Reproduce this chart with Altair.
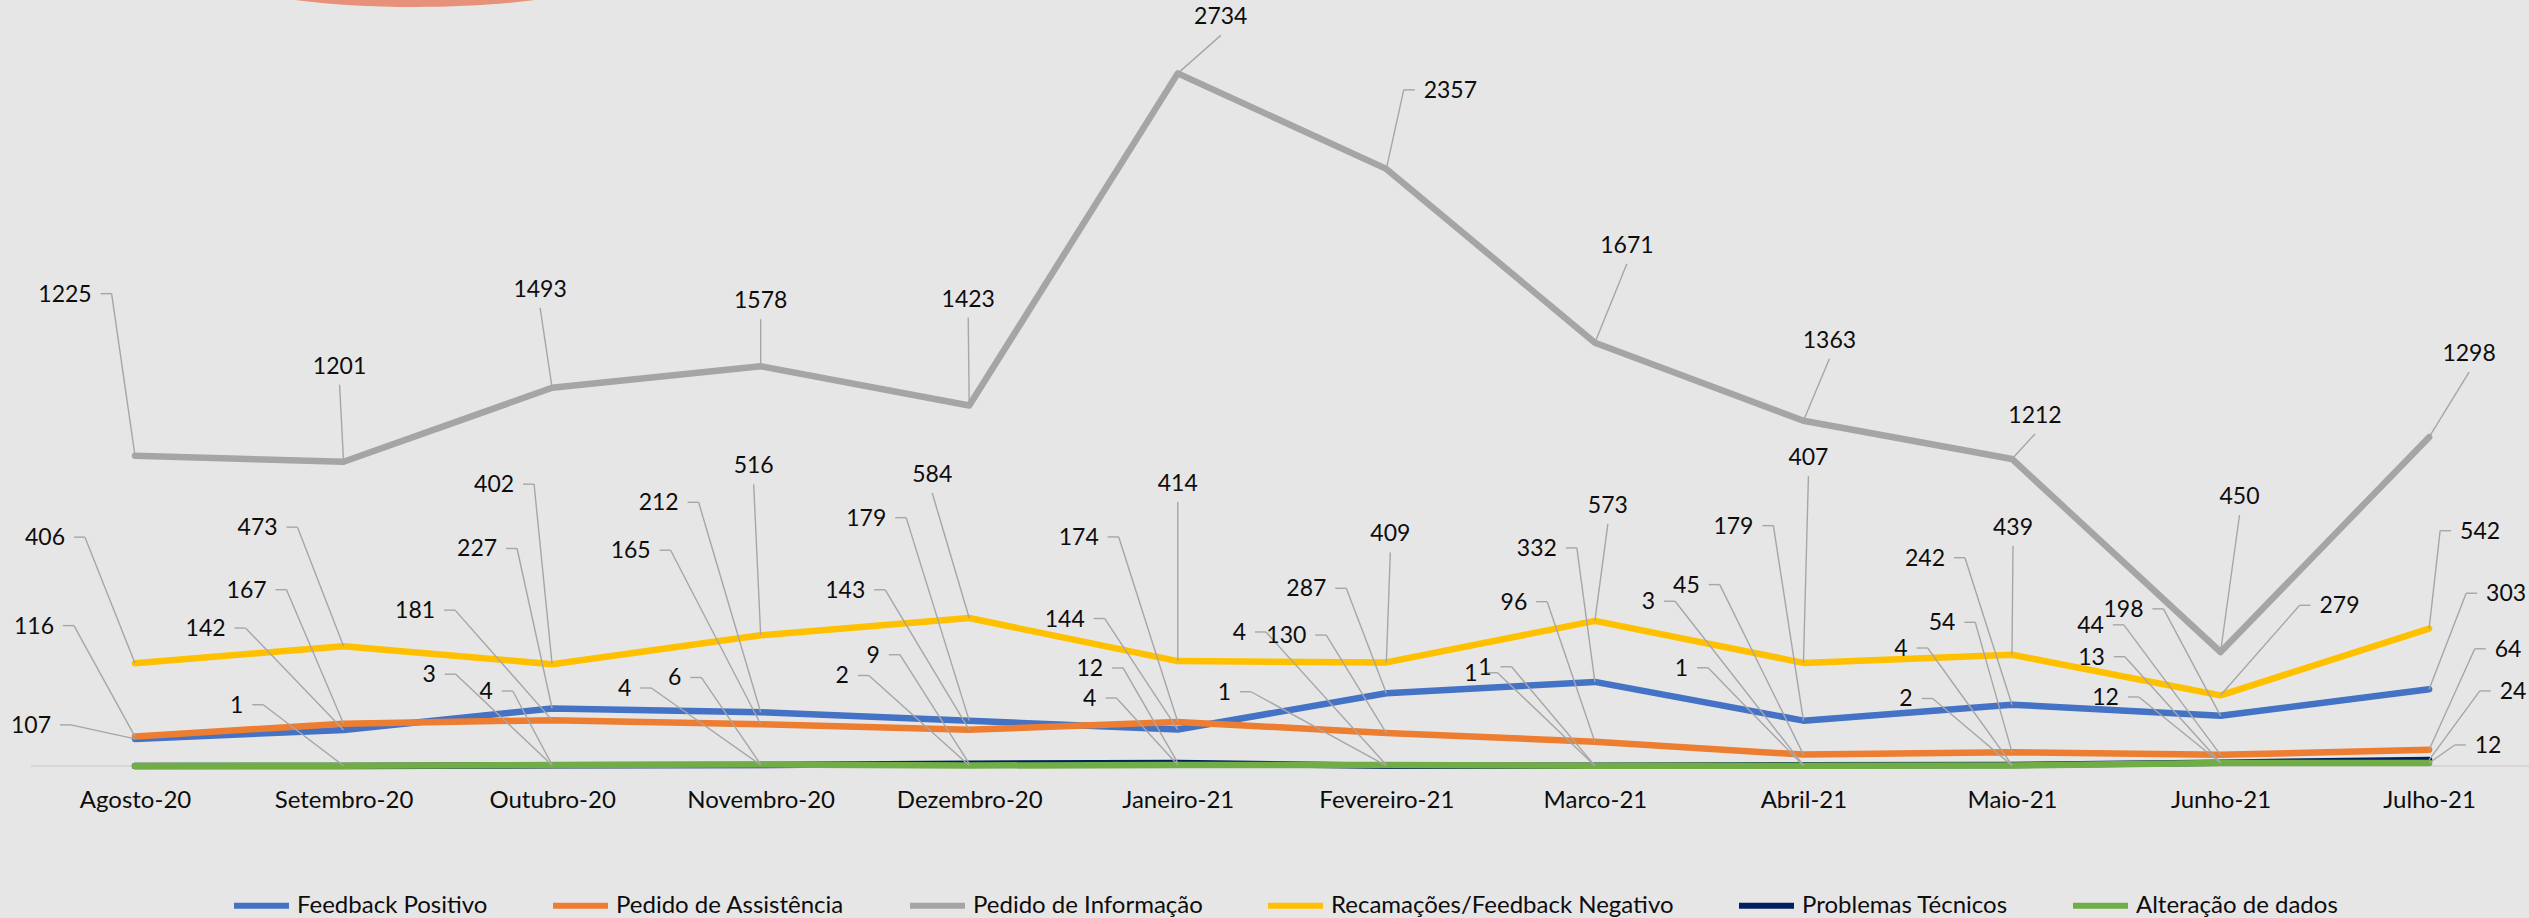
import json
import altair as alt
import pandas as pd

# ---- data -----------------------------------------------------------------
months = ["Agosto-20", "Setembro-20", "Outubro-20", "Novembro-20", "Dezembro-20",
          "Janeiro-21", "Fevereiro-21", "Marco-21", "Abril-21", "Maio-21",
          "Junho-21", "Julho-21"]

series_names = ["Feedback Positivo", "Pedido de Assistência", "Pedido de Informação",
                "Recamações/Feedback Negativo", "Problemas Técnicos", "Alteração de dados"]
series_colors = ["#4472C4", "#ED7D31", "#A5A5A5", "#FFC000", "#002060", "#70AD47"]

feedback_positivo = [107, 142, 227, 212, 179, 144, 287, 332, 179, 242, 198, 303]
pedido_assistencia = [116, 167, 181, 165, 143, 174, 130, 96, 45, 54, 44, 64]
pedido_informacao = [1225, 1201, 1493, 1578, 1423, 2734, 2357, 1671, 1363, 1212, 450, 1298]
reclamacoes = [406, 473, 402, 516, 584, 414, 409, 573, 407, 439, 279, 542]
problemas_tecnicos = [0, 0, 3, 4, 9, 12, 1, 1, 3, 4, 13, 24]
alteracao_dados = [0, 1, 4, 6, 2, 4, 4, 1, 1, 2, 12, 12]

# data-label placement: offset of each label from its point, in pixels (dx, dy)
lbl_feedback_positivo = [(-104, -14), (-138, -102), (-75, -160), (-102, -210), (-103, -203), (-113, -111),
                         (-80, -105), (-58, -134), (-70, -195), (-87, -147), (-97, -107), (77, -96)]
lbl_pedido_assistencia = [(-101, -111), (-97, -134), (-137, -110), (-130, -174), (-124, -140), (-99, -185),
                          (-100, -98), (-81, -140), (-117, -170), (-70, -130), (-130, -130), (79, -101)]
lbl_pedido_informacao = [(-70, -162), (-4, -96), (-12, -99), (0, -66), (-1, -107), (43, -57),
                         (64, -79), (32, -98), (26, -81), (23, -44), (19, -156), (40, -84)]
lbl_reclamacoes = [(-90, -126), (-86, -119), (-58, -180), (-7, -170), (-37, -144), (0, -178),
                   (4, -129), (13, -116), (5, -206), (1, -128), (119, -90), (51, -98)]
lbl_problemas_tecnicos = [(0, 0), (0, 0), (-123, -91), (-136, -77), (-96, -109), (-88, -95),
                          (-162, -74), (-124, -93), (-155, -164), (-111, -117), (-129, -106), (84, -69)]
lbl_alteracao_dados = [(0, 0), (-107, -61), (-66, -74), (-86, -87), (-127, -90), (-88, -67),
                       (-147, -133), (-110, -99), (-122, -98), (-106, -67), (-115, -66), (59, -18)]

values = [feedback_positivo, pedido_assistencia, pedido_informacao,
          reclamacoes, problemas_tecnicos, alteracao_dados]
offsets = [lbl_feedback_positivo, lbl_pedido_assistencia, lbl_pedido_informacao,
           lbl_reclamacoes, lbl_problemas_tecnicos, lbl_alteracao_dados]

# ---- geometry of the plot area ----------------------------------------------
W, H = 2498, 760
X_MIN, X_MAX = -0.4987, 11.479
Y_MAX = 3000
PX_X = W / (X_MAX - X_MIN)      # pixels per month
PX_Y = H / Y_MAX                # pixels per unit
FONT = "Lato"
FS = 23
FS_AXIS = 24
TXT = "#0d0d0d"

rows = []
for name, vals, offs in zip(series_names, values, offsets):
    for i, (v, (dx, dy)) in enumerate(zip(vals, offs)):
        rows.append({"idx": i, "serie": name, "valor": v, "dx": dx, "dy": dy,
                     "lab": str(v) if v > 0 else ""})
df = pd.DataFrame(rows)

# leader lines: side-attached stub when the point is clear of the label, else from its bottom
lab = df[df["lab"] != ""].copy()
hw = lab["lab"].str.len() * 6.65
right_edge = lab["dx"] + hw
left_edge = lab["dx"] - hw
side = ["l" if r < -25 else ("r" if l > 25 else "b") for r, l in zip(right_edge, left_edge)]
lab["side"] = side
ex, ey, sx = [], [], []
for s, r, l, dx, dy in zip(side, right_edge, left_edge, lab["dx"], lab["dy"]):
    if s == "l":
        ex.append(r + 20); sx.append(r + 9); ey.append(dy)
    elif s == "r":
        ex.append(l - 20); sx.append(l - 9); ey.append(dy)
    else:
        ex.append(dx); sx.append(dx); ey.append(dy + 19)
lab["lx"] = lab["idx"] + lab["dx"] / PX_X
lab["ly"] = lab["valor"] - (lab["dy"] + 1) / PX_Y
lab["ex"] = lab["idx"] + pd.Series(ex, index=lab.index) / PX_X
lab["sx"] = lab["idx"] + pd.Series(sx, index=lab.index) / PX_X
lab["ey"] = lab["valor"] - pd.Series(ey, index=lab.index) / PX_Y

xscale = alt.Scale(domain=[X_MIN, X_MAX], nice=False, zero=False)
yscale = alt.Scale(domain=[0, Y_MAX], nice=False)
label_expr = json.dumps(months) + "[datum.value]"

x_axis = alt.Axis(values=list(range(12)), labelExpr=label_expr, title=None, grid=False,
                  ticks=False, domain=False, labelFont=FONT, labelFontSize=FS_AXIS,
                  labelColor=TXT, labelPadding=22, labelOverlap=False, labelFlush=False)

legend = alt.Legend(orient="none", legendX=200, legendY=869, direction="horizontal",
                    title=None, symbolType="stroke", symbolStrokeWidth=6, symbolSize=3025,
                    labelFont=FONT, labelFontSize=FS_AXIS, labelColor=TXT, labelOffset=5,
                    labelLimit=0, columnPadding=53)
color = alt.Color("serie:N", scale=alt.Scale(domain=series_names, range=series_colors),
                  legend=legend)

# decorative ellipse peeking in at the top edge
ellipse_path = "M -1 0 A 1 0.175 0 1 0 1 0 A 1 0.175 0 1 0 -1 0 Z"
ellipse = alt.Chart(pd.DataFrame({"k": [0]})).mark_point(
    shape=ellipse_path, size=160000, filled=True, color="#E8917A", opacity=1, strokeWidth=0
).encode(x=alt.value(384), y=alt.value(-34))

baseline = alt.Chart(pd.DataFrame({"y": [0]})).mark_rule(color="#D6D6D6", strokeWidth=2).encode(
    y=alt.Y("y:Q", scale=yscale, axis=None), x=alt.value(0), x2=alt.value(W))

lines = []
for name in series_names:
    lines.append(
        alt.Chart(df).transform_filter(alt.datum.serie == name).mark_line(
            strokeWidth=6.5, strokeCap="round", strokeJoin="round"
        ).encode(
            x=alt.X("idx:Q", scale=xscale, axis=x_axis),
            y=alt.Y("valor:Q", scale=yscale, axis=None),
            color=color,
        )
    )

leader = alt.Chart(lab).mark_rule(color="#A6A6A6", strokeWidth=1.4).encode(
    x=alt.X("idx:Q", scale=xscale), y=alt.Y("valor:Q", scale=yscale),
    x2="ex:Q", y2="ey:Q")
stub = alt.Chart(lab).mark_rule(color="#A6A6A6", strokeWidth=1.4).encode(
    x=alt.X("sx:Q", scale=xscale), y=alt.Y("ey:Q", scale=yscale),
    x2="ex:Q", y2="ey:Q")
texts = alt.Chart(lab).mark_text(font=FONT, fontSize=FS, color=TXT,
                                 align="center", baseline="middle").encode(
    x=alt.X("lx:Q", scale=xscale), y=alt.Y("ly:Q", scale=yscale), text="lab:N")

chart = alt.layer(ellipse, baseline, *lines, leader, stub, texts).properties(
    width=W, height=H,
    autosize=alt.AutoSizeParams(type="none"),
    padding={"left": 31, "top": 6, "right": 0, "bottom": 152},
    background="#E7E6E6",
).configure_view(stroke=None)

chart.save("out.html", embed_options={"renderer": "svg", "actions": False})
